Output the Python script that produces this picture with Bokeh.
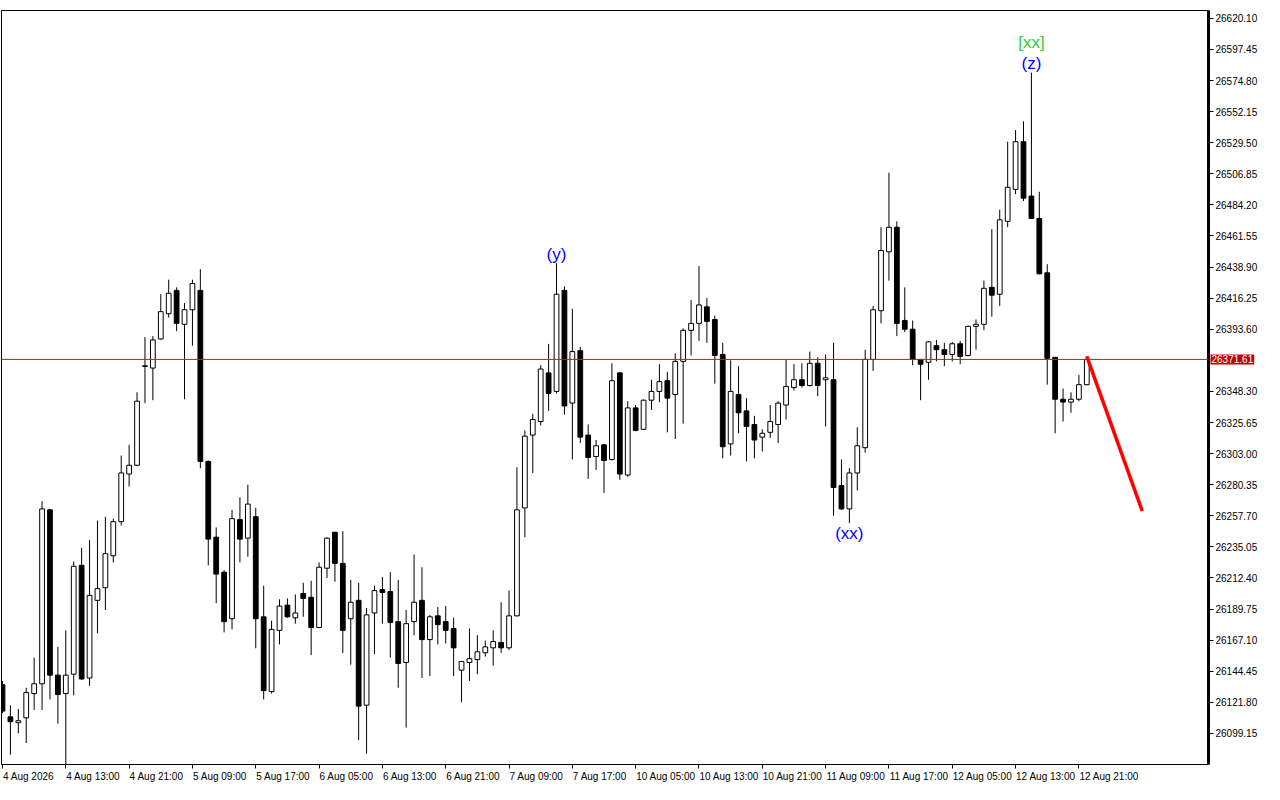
from bokeh.plotting import figure
from bokeh.models import (Range1d, FixedTicker, NumeralTickFormatter, Span, Label,
                          ColumnDataSource, LinearAxis)
from bokeh.core.properties import value
from bokeh.embed import file_html
from bokeh.resources import INLINE

# ---- data (hourly candles, index = bar number) ----
opens = [26134.6, 26111.2, 26107.0, 26110.5, 26128.2, 26135.3, 26262.0, 26141.6, 26128.2, 26142.3,
         26221.6, 26139.5, 26196.1, 26205.3, 26228.6, 26253.4, 26288.1, 26294.5, 26366.5, 26365.3,
         26386.5, 26404.9, 26421.9, 26397.2, 26407.8, 26421.9, 26297.3, 26242.1, 26216.6, 26182.7,
         26254.9, 26241.4, 26257.0, 26184.1, 26129.6, 26174.2, 26192.6, 26183.4, 26201.1, 26198.3,
         26176.3, 26219.5, 26245.7, 26223.0, 26182.7, 26196.1, 26119.7, 26186.9, 26203.9, 26202.5,
         26180.6, 26150.8, 26180.6, 26196.1, 26167.5, 26184.8, 26180.6, 26175.6, 26145.2, 26150.8,
         26152.9, 26157.9, 26161.5, 26165.4, 26161.5, 26184.8, 26263.4, 26316.5, 26326.4, 26361.8,
         26348.3, 26421.9, 26339.8, 26378.0, 26316.5, 26300.9, 26309.4, 26298.7, 26361.8, 26287.4,
         26336.3, 26320.7, 26341.9, 26348.3, 26356.1, 26346.1, 26370.2, 26392.8, 26397.9, 26409.9,
         26400.7, 26375.2, 26310.1, 26346.1, 26334.1, 26324.2, 26315.0, 26318.5, 26324.2, 26338.4,
         26351.1, 26356.8, 26352.6, 26368.8, 26356.8, 26356.8, 26279.7, 26262.7, 26288.9, 26307.3,
         26371.6, 26407.1, 26450.0, 26467.9, 26400.0, 26393.6, 26371.6, 26369.5, 26381.6, 26378.7,
         26375.2, 26383.0, 26374.5, 26395.7, 26397.2, 26424.1, 26419.1, 26472.2, 26495.5, 26530.2,
         26490.6, 26474.3, 26434.7, 26373.1, 26342.6, 26340.5, 26342.6, 26353.2]
highs = [26137.4, 26119.7, 26116.9, 26132.4, 26154.4, 26268.3, 26262.7, 26162.2, 26174.2, 26224.4,
         26234.4, 26240.0, 26254.2, 26257.0, 26255.6, 26301.6, 26309.4, 26347.6, 26387.9, 26388.6,
         26419.1, 26429.7, 26424.1, 26412.7, 26429.7, 26437.3, 26298.0, 26249.2, 26218.1, 26262.0,
         26271.2, 26280.4, 26263.4, 26206.8, 26181.3, 26196.8, 26197.5, 26200.4, 26208.9, 26210.3,
         26223.7, 26242.1, 26246.0, 26246.4, 26211.0, 26208.9, 26190.5, 26206.8, 26213.1, 26216.6,
         26211.0, 26189.1, 26229.4, 26220.2, 26185.5, 26191.2, 26191.9, 26183.4, 26152.0, 26175.6,
         26170.7, 26166.8, 26174.2, 26194.7, 26203.2, 26293.1, 26319.9, 26332.0, 26367.4, 26382.9,
         26441.7, 26424.8, 26408.5, 26380.8, 26324.2, 26312.9, 26310.1, 26368.8, 26362.3, 26341.2,
         26338.4, 26342.4, 26356.8, 26368.1, 26362.5, 26375.9, 26394.2, 26414.8, 26439.6, 26416.3,
         26403.5, 26383.7, 26370.9, 26366.7, 26343.4, 26330.5, 26320.7, 26338.4, 26341.2, 26371.6,
         26368.1, 26368.8, 26377.3, 26373.1, 26375.2, 26383.7, 26298.7, 26292.4, 26322.1, 26378.7,
         26410.6, 26467.9, 26507.6, 26472.2, 26424.1, 26400.0, 26372.0, 26384.8, 26385.8, 26383.7,
         26384.4, 26385.1, 26396.2, 26400.7, 26429.0, 26466.5, 26480.7, 26530.2, 26538.7, 26545.1,
         26580.5, 26493.7, 26441.0, 26373.5, 26350.4, 26347.6, 26360.3, 26373.8]
lows = [26114.0, 26083.6, 26099.2, 26092.1, 26116.2, 26116.2, 26123.9, 26106.2, 26074.0, 26126.8,
        26138.1, 26133.8, 26172.1, 26189.1, 26223.7, 26250.6, 26279.0, 26294.0, 26339.8, 26341.9,
        26386.0, 26402.1, 26392.2, 26342.6, 26381.6, 26292.4, 26221.6, 26194.0, 26172.8, 26174.9,
        26223.7, 26227.9, 26161.2, 26123.9, 26128.2, 26164.0, 26183.4, 26179.1, 26184.1, 26156.2,
        26176.0, 26212.4, 26209.6, 26157.7, 26149.2, 26094.2, 26084.3, 26156.9, 26179.1, 26154.4,
        26132.4, 26103.4, 26170.7, 26139.5, 26140.9, 26164.0, 26164.7, 26140.9, 26121.8, 26137.4,
        26142.3, 26155.1, 26148.6, 26157.9, 26160.0, 26184.3, 26242.1, 26288.9, 26323.5, 26334.1,
        26346.8, 26331.3, 26298.7, 26310.7, 26284.6, 26291.1, 26274.3, 26298.0, 26283.9, 26286.0,
        26319.2, 26320.2, 26334.8, 26340.5, 26318.5, 26313.6, 26324.9, 26374.5, 26385.1, 26383.7,
        26353.9, 26299.5, 26301.6, 26317.8, 26297.3, 26299.5, 26304.4, 26314.3, 26310.7, 26327.8,
        26349.0, 26351.1, 26351.9, 26344.8, 26322.8, 26257.7, 26262.0, 26252.4, 26276.2, 26303.7,
        26363.2, 26397.9, 26429.0, 26388.6, 26391.5, 26367.4, 26341.9, 26356.8, 26370.2, 26366.7,
        26370.2, 26368.1, 26373.8, 26378.7, 26392.8, 26402.8, 26410.6, 26467.9, 26492.0, 26487.0,
        26474.0, 26433.5, 26353.2, 26317.8, 26326.4, 26332.7, 26341.2, 26352.8]
closes = [26115.4, 26107.7, 26108.4, 26128.9, 26135.3, 26262.7, 26141.6, 26127.5, 26141.6, 26220.9,
          26138.8, 26199.7, 26204.6, 26230.1, 26253.4, 26288.9, 26294.5, 26341.2, 26367.0, 26385.8,
          26406.4, 26419.8, 26397.9, 26407.8, 26426.9, 26297.3, 26240.7, 26215.2, 26180.6, 26255.6,
          26240.7, 26266.2, 26182.7, 26130.3, 26174.9, 26191.9, 26184.1, 26186.9, 26197.5, 26176.3,
          26220.2, 26241.4, 26223.0, 26174.2, 26194.7, 26119.0, 26185.5, 26203.2, 26201.8, 26179.9,
          26150.1, 26179.1, 26194.7, 26167.5, 26184.1, 26178.4, 26174.2, 26161.5, 26151.5, 26153.6,
          26158.6, 26162.2, 26166.1, 26161.5, 26184.8, 26262.0, 26315.7, 26327.8, 26364.6, 26346.8,
          26419.1, 26337.7, 26377.3, 26315.0, 26300.2, 26308.7, 26298.0, 26356.1, 26288.1, 26336.3,
          26319.9, 26341.9, 26348.3, 26355.4, 26343.4, 26370.2, 26392.8, 26397.9, 26411.3, 26399.3,
          26374.5, 26308.0, 26348.3, 26332.7, 26322.8, 26312.9, 26317.8, 26326.4, 26339.8, 26351.9,
          26356.8, 26352.6, 26368.8, 26352.6, 26358.2, 26278.3, 26262.7, 26288.9, 26308.7, 26371.6,
          26407.8, 26450.9, 26467.9, 26397.9, 26393.6, 26371.6, 26368.1, 26384.4, 26378.7, 26375.2,
          26383.0, 26373.8, 26395.7, 26397.2, 26423.4, 26418.4, 26473.3, 26497.0, 26530.2, 26489.1,
          26474.3, 26434.0, 26372.4, 26342.6, 26340.5, 26342.6, 26353.2, 26371.61]

date_labels = ["4 Aug 2026", "4 Aug 13:00", "4 Aug 21:00", "5 Aug 09:00", "5 Aug 17:00",
               "6 Aug 05:00", "6 Aug 13:00", "6 Aug 21:00", "7 Aug 09:00", "7 Aug 17:00",
               "10 Aug 05:00", "10 Aug 13:00", "10 Aug 21:00", "11 Aug 09:00", "11 Aug 17:00",
               "12 Aug 05:00", "12 Aug 13:00", "12 Aug 21:00"]
bars_per_label = 8

price_ticks = [26620.10, 26597.45, 26574.80, 26552.15, 26529.50, 26506.85, 26484.20, 26461.55,
               26438.90, 26416.25, 26393.60, 26348.30, 26325.65, 26303.00, 26280.35, 26257.70,
               26235.05, 26212.40, 26189.75, 26167.10, 26144.45, 26121.80, 26099.15]
current_price = 26371.61

forecast_bars = [137, 144]
forecast_prices = [26373.8, 26261.2]

wave_text = ["(y)", "(xx)", "(z)", "[xx]"]
wave_bar = [70, 107, 130, 130]
wave_at_high = [True, False, True, True]
wave_color = ["#0000ff", "#0000ff", "#0000ff", "#32cd32"]

# ---- layout constants ----
FONT = "Liberation Sans"
W, H = 1264, 784
BL, BR, BT, BB = 1, 56, 3, 18
X0, X1 = -0.125, 152.375
FRAME_W = W - BL - BR
PX_PER_BAR = FRAME_W / (X1 - X0)

n = len(opens)
idx = list(range(n))

p = figure(width=W, height=H, output_backend="svg", toolbar_location=None,
           x_range=Range1d(X0, X1), y_range=Range1d(26076.5, 26625.8),
           y_axis_location="right", x_axis_location=None,
           min_border_left=BL, min_border_top=BT,
           min_border_right=BR, min_border_bottom=BB)
p.background_fill_color = "white"
p.border_fill_color = "white"
p.outline_line_color = "black"
p.outline_line_width = 1
p.grid.visible = False

inc = [c >= o for o, c in zip(opens, closes)]
body_top = [max(o, c) for o, c in zip(opens, closes)]
body_bot = [min(o, c) for o, c in zip(opens, closes)]
fill = ["white" if u else "black" for u in inc]

src = ColumnDataSource(dict(x=idx, h=highs, l=lows, t=body_top, b=body_bot, fill=fill))
p.segment(x0="x", y0="h", x1="x", y1="l", source=src, line_color="black", line_width=1)
p.vbar(x="x", top="t", bottom="b", width=0.6, source=src, fill_color="fill",
       line_color="black", line_width=1)

p.add_layout(Span(location=current_price, dimension="width", line_color="#ff0000", line_width=1))

p.line(forecast_bars, forecast_prices, line_color="#ff0000", line_width=3.5)

# wave labels
wy = [highs[b] if hi else lows[b] for b, hi in zip(wave_bar, wave_at_high)]
woff = []
for t, hi in zip(wave_text, wave_at_high):
    if t.startswith("["):
        woff.append(-30)
    else:
        woff.append(-9 if hi else 10)
wsrc = ColumnDataSource(dict(x=wave_bar, y=wy, text=wave_text, color=wave_color, off=woff))
p.text(x="x", y="y", text="text", source=wsrc, text_color="color", y_offset="off",
       text_align="center", text_baseline="middle", text_font=value(FONT),
       text_font_size="17px")

# ---- right price axis ----
ya = p.yaxis[0]
ya.ticker = FixedTicker(ticks=price_ticks)
ya.formatter = NumeralTickFormatter(format="0.00")
ya.axis_line_width = 3
ya.axis_line_color = "black"
ya.major_tick_in = 0
ya.major_tick_out = 5
ya.minor_tick_line_color = None
ya.major_label_standoff = 2
ya.major_label_text_font = FONT
ya.major_label_text_font_size = "10px"
ya.major_label_text_color = "black"

# ---- bottom time axis ----
# tick marks (minor ticks) at the bar positions; labels left-aligned at their tick:
# each label is centred half its width to the right of its bar.
tick_pos = [i * bars_per_label for i in range(len(date_labels))]
CW = {" ": 0.278, ":": 0.278, "A": 0.667, "u": 0.556, "g": 0.556}
def text_w(s, size=10):
    return sum(CW.get(ch, 0.556) for ch in s) * size

lab_pos = [tp + (text_w(lab) / 2 + 0.5) / PX_PER_BAR for tp, lab in zip(tick_pos, date_labels)]
xb = LinearAxis(ticker=FixedTicker(ticks=lab_pos, minor_ticks=tick_pos),
                major_label_overrides={lp: lab for lp, lab in zip(lab_pos, date_labels)})
xb.axis_line_color = "black"
xb.major_tick_line_color = None
xb.minor_tick_line_color = "black"
xb.minor_tick_in = 0
xb.minor_tick_out = 4
xb.major_tick_out = 4
xb.major_tick_in = 0
xb.major_label_standoff = 2
xb.major_label_text_font = FONT
xb.major_label_text_font_size = "10px"
xb.major_label_text_color = "black"
p.add_layout(xb, "below")

# current price tag on the price axis (in the top side panel so it is not clipped to the frame)
p.add_layout(Label(x=FRAME_W + 2, y=current_price, x_units="screen", y_units="data",
                   text=f"{current_price:.2f}", text_color="white",
                   text_font=FONT, text_font_size="10px", text_align="left",
                   text_baseline="middle", background_fill_color="#c80000",
                   padding=1), "above")

open("out.html", "w").write(file_html(p, INLINE))
